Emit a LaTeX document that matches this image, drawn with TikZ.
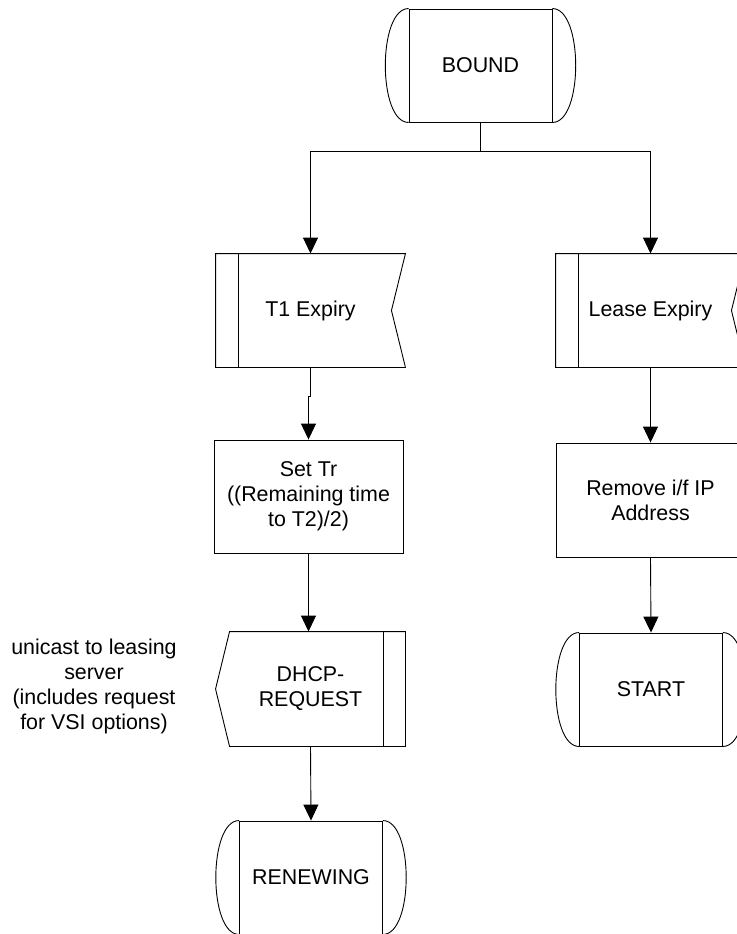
\documentclass[tikz,border=0pt]{standalone}
\usepackage{fontspec}
\setmainfont{Liberation Sans}
\usetikzlibrary{arrows.meta}

% rounded side caps of a state box
\newcommand\statesides[1]{%
  \draw (#1.north west) .. controls ([xshift=-31pt]#1.north west) and ([xshift=-31pt]#1.south west) .. (#1.south west);
  \draw (#1.north east) .. controls ([xshift=31pt]#1.north east) and ([xshift=31pt]#1.south east) .. (#1.south east);}
% input signal: notched right side, bar on the left
\newcommand\receiveshape[1]{%
  \draw (#1.north west) -- (#1.north east) -- ([xshift=-14pt]#1.east) -- (#1.south east) -- (#1.south west) -- cycle;
  \draw ([xshift=23pt]#1.north west) -- ([xshift=23pt]#1.south west);}
% output signal: pointed left side, bar on the right
\newcommand\sendshape[1]{%
  \draw ([xshift=14pt]#1.north west) -- (#1.north east) -- (#1.south east) -- ([xshift=14pt]#1.south west) -- (#1.west) -- cycle;
  \draw ([xshift=-22pt]#1.north east) -- ([xshift=-22pt]#1.south east);}

\begin{document}
\begin{tikzpicture}[x=1pt, y=-1pt, line width=0.9pt,
  font=\fontsize{21.4}{25}\selectfont,
  sigbox/.style={minimum width=189pt, minimum height=113pt, inner sep=0pt, align=center},
  taskbox/.style={draw, minimum width=189pt, minimum height=113pt, inner sep=0pt, align=center},
  statebox/.style={draw, minimum width=143pt, minimum height=113pt, inner sep=0pt},
  flow/.style={-{Triangle[length=16pt,width=15pt]}}]

\useasboundingbox (0,0) rectangle (736,934);
\fill[white] (0,0) rectangle (736,934);

% states
\node[statebox] (bound) at (480.5,65.5) {BOUND};
\statesides{bound}
\node[statebox] (start) at (651,689.5) {START};
\statesides{start}
\node[statebox] (renew) at (311,877.5) {RENEWING};
\statesides{renew}

% input signals
\node[sigbox] (t1) at (310.5,310.5) {T1 Expiry};
\receiveshape{t1}
\node[sigbox] (lease) at (650.5,310.5) {Lease Expiry};
\receiveshape{lease}

% tasks
\node[taskbox] (settr) at (308.5,496.5) {Set Tr\\((Remaining time\\to T2)/2)};
\node[taskbox, minimum height=114pt] (remove) at (650.5,500) {Remove i/f IP\\Address};

% output signal
\node[sigbox, minimum height=114pt] (req) at (310.5,689) {DHCP-\\REQUEST};
\sendshape{req}

% comment on the request
\node[align=center, inner sep=0pt] (note) at (94,686) {unicast to leasing\\server\\(includes request\\for VSI options)};

% connectors
\draw[flow] (bound.south) -- ++(0,29) -| (t1.north);
\draw[flow] (bound.south) -- ++(0,29) -| (lease.north);
\draw[flow] (t1.south) -- ++(0,29) -- ++(-2,0) -- (settr.north);
\draw[flow] (settr.south) -- (settr.south |- req.north);
\draw[flow] (req.south) -- (renew.north);
\draw[flow] (lease.south) -- (remove.north);
\draw[flow] (remove.south) -- (start.north);
\end{tikzpicture}
\end{document}
